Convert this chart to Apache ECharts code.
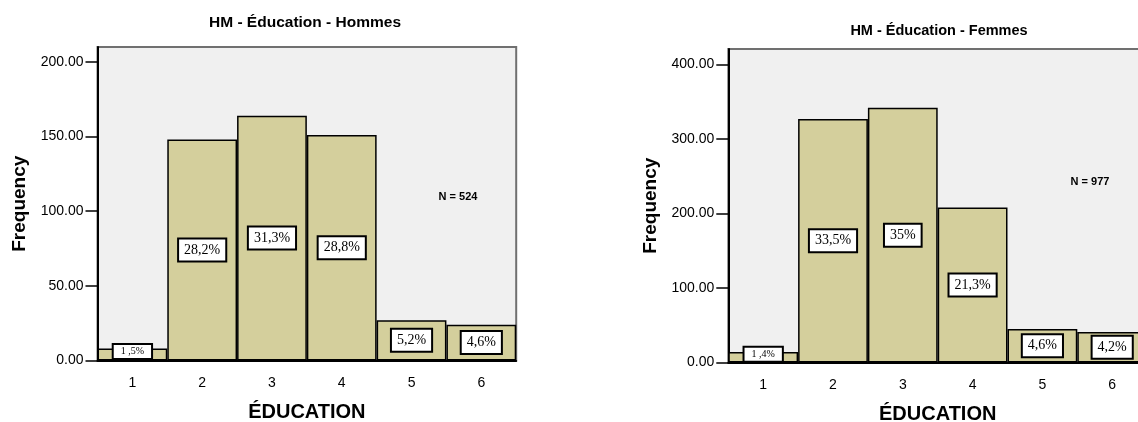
<!DOCTYPE html>
<html>
<head>
<meta charset="utf-8">
<script src="https://cdn.jsdelivr.net/npm/echarts@6/dist/echarts.min.js"></script>
<style>html,body{margin:0;padding:0;background:#fff;}#c{width:1138px;height:422px;}</style>
</head>
<body>
<div id="c"></div>
<script>
// ---- data ----
const categories = ['1', '2', '3', '4', '5', '6'];
const hommesValues = [8, 148, 164, 151, 27, 24];
const hommesLabels = ['1 ,5%', '28,2%', '31,3%', '28,8%', '5,2%', '4,6%'];
const femmesValues = [14, 327, 342, 208, 45, 41];
const femmesLabels = ['1 ,4%', '33,5%', '35%', '21,3%', '4,6%', '4,2%'];
const hommesTicks = [0, 50, 100, 150, 200];
const femmesTicks = [0, 100, 200, 300, 400];
const titles = ['HM - Éducation - Hommes', 'HM - Éducation - Femmes'];
const nTexts = ['N = 524', 'N = 977'];
const xName = 'ÉDUCATION';
const yName = 'Frequency';

const SANS = 'Liberation Sans, Arial, sans-serif';
const SERIF = 'Liberation Serif, Times New Roman, serif';

function buildData(values, labels) {
  return values.map((v, i) => {
    const big = i > 0;
    return {
      value: v,
      label: {
        show: true,
        formatter: labels[i],
        position: 'inside',
        offset: big ? [0, 0] : [0, -3],
        fontFamily: SERIF,
        fontSize: big ? 14 : 10,
        color: '#000',
        backgroundColor: '#fff',
        borderColor: '#000',
        borderWidth: 2,
        padding: big ? [3, 5, 4, 5] : [1, 7, 2, 7]
      }
    };
  });
}

function xAxisCfg(gi) {
  return {
    type: 'category', gridIndex: gi, data: categories,
    boundaryGap: true,
    axisLine: { lineStyle: { color: '#000', width: 2 } },
    axisTick: { alignWithLabel: true, length: 11, lineStyle: { color: '#000', width: 2 } },
    axisLabel: { color: '#000', fontFamily: SANS, fontSize: 14, margin: 16 },
    name: xName, nameLocation: 'middle', nameGap: 42,
    nameTextStyle: { color: '#000', fontFamily: SANS, fontSize: 20, fontWeight: 'bold' }
  };
}
function yAxisCfg(gi, max, ticks) {
  return {
    type: 'value', gridIndex: gi, min: 0, max: max,
    splitLine: { show: false },
    axisLine: { show: true, lineStyle: { color: '#000', width: 2 } },
    axisTick: { show: true, length: 12, customValues: ticks, lineStyle: { color: '#000', width: 1.5 } },
    axisLabel: { color: '#000', fontFamily: SANS, fontSize: 14, margin: 14, customValues: ticks,
      formatter: v => v.toFixed(2) },
    name: yName, nameLocation: 'middle', nameRotate: 90, nameGap: 68,
    nameTextStyle: { color: '#000', fontFamily: SANS, fontSize: 19, fontWeight: 'bold' }
  };
}

const chart = echarts.init(document.getElementById('c'), null, { renderer: 'canvas' });
chart.setOption({
  animation: false,
  backgroundColor: '#fff',
  title: [
    { text: titles[0], left: 305, top: 15, textAlign: 'center', padding: 0,
      textStyle: { fontFamily: SANS, fontSize: 15.5, fontWeight: 'bold', color: '#000' } },
    { text: titles[1], left: 939, top: 23, textAlign: 'center', padding: 0,
      textStyle: { fontFamily: SANS, fontSize: 14.5, fontWeight: 'bold', color: '#000' } },
    { text: nTexts[0], left: 458, top: 191, textAlign: 'center', padding: 0,
      textStyle: { fontFamily: SANS, fontSize: 11, fontWeight: 'bold', color: '#000' } },
    { text: nTexts[1], left: 1090, top: 176, textAlign: 'center', padding: 0,
      textStyle: { fontFamily: SANS, fontSize: 11, fontWeight: 'bold', color: '#000' } }
  ],
  grid: [
    { left: 97.5, top: 47, width: 418.7, height: 313.5, show: true, outerBoundsMode: 'none',
      containLabel: false,
      backgroundColor: '#F0F0F0', borderColor: '#707070', borderWidth: 2 },
    { left: 728.3, top: 49, width: 418.8, height: 313.5, show: true, outerBoundsMode: 'none',
      containLabel: false,
      backgroundColor: '#F0F0F0', borderColor: '#707070', borderWidth: 2 }
  ],
  xAxis: [xAxisCfg(0), xAxisCfg(1)],
  yAxis: [yAxisCfg(0, 210, hommesTicks), yAxisCfg(1, 421, femmesTicks)],
  series: [
    { type: 'bar', xAxisIndex: 0, yAxisIndex: 0, barCategoryGap: '0%',
      itemStyle: { color: '#D4CF9C', borderColor: '#000', borderWidth: 1.5 },
      data: buildData(hommesValues, hommesLabels) },
    { type: 'bar', xAxisIndex: 1, yAxisIndex: 1, barCategoryGap: '0%',
      itemStyle: { color: '#D4CF9C', borderColor: '#000', borderWidth: 1.5 },
      data: buildData(femmesValues, femmesLabels) }
  ]
});
</script>
</body>
</html>
